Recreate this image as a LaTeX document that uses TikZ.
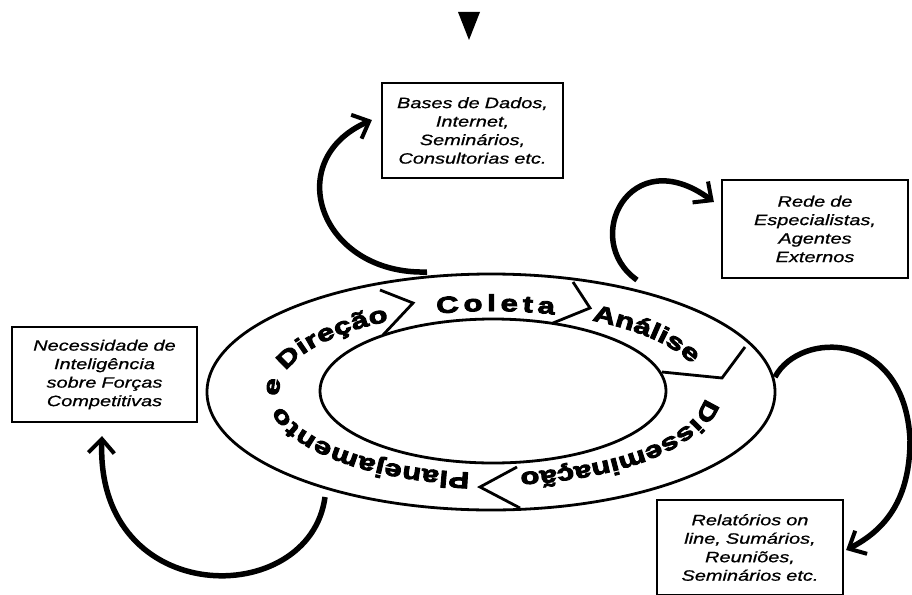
\documentclass[tikz,border=0pt]{standalone}
\usepackage{fontspec}
\usetikzlibrary{arrows.meta,calc,decorations.text}
\newfontfamily\boxfamily[FakeStretch=1.33,FakeBold=0.8]{Liberation Sans}
\newfontfamily\ringfamily[FakeStretch=1.35,FakeBold=4]{Liberation Sans Bold}
\newcommand\boxfont{\boxfamily\itshape\fontsize{15}{18.5}\selectfont}
\newcommand\ringfont{\ringfamily\fontsize{23}{23}\selectfont}

\begin{document}
\begin{tikzpicture}
	[
	x=1pt,y=-1pt,
	srcbox/.style={rectangle,draw,line width=2.2pt,inner sep=0pt,text width=#1,align=center,font=\boxfont,minimum height=95pt},
	ringline/.style={line width=2.8pt},
	ringlabel/.style={decorate,decoration={text along path,text align={fit to path},text={|\ringfont|#1}}},
	cyclearrow/.style={line width=5.5pt,-{Straight Barb[length=14pt,width=26pt,line width=4pt]}},
	]
	\useasboundingbox (0,0) rectangle (912,594);
	\clip (0,0) rectangle (912,594);

	% ring
	\coordinate (ctr) at (492,392);
	\draw[ringline] (491,392) ellipse [x radius=284,y radius=118];
	\draw[ringline] (493,391) ellipse [x radius=173,y radius=72];
	\draw[ringline] (380,290) -- (413,303) -- (383,335);
	\draw[ringline] (573,282) -- (590,308) -- (553,323);
	\draw[ringline] (745,347) -- (722,378) -- (662,372);
	\draw[ringline] (520,508) -- (480,487) -- (517,467);

	\path[ringlabel=Coleta] (ctr) ++(-105:213 and 81) arc[start angle=-105,end angle=-73,x radius=213,y radius=81];
	\path[ringlabel=Análise] (ctr) ++(-62:213 and 81) arc[start angle=-62,end angle=-20,x radius=213,y radius=81];
	\path[ringlabel=Disseminação] (ctr) ++(4:213 and 81) arc[start angle=4,end angle=82,x radius=213,y radius=81];
	\path[ringlabel=Planejamento e Direção] (ctr) ++(96:213 and 81) arc[start angle=96,end angle=241,x radius=213,y radius=81];

	% boxes
	\node[srcbox=181pt] (bases) at (472.5,130.5) {Bases de Dados,\\ Internet,\\ Seminários,\\ Consultorias etc.};
	\node[srcbox=186pt,minimum height=98pt] (rede) at (815,229) {Rede de\\ Especialistas,\\ Agentes\\ Externos};
	\node[srcbox=185pt] (nec) at (104.5,374.5) {Necessidade de\\ Inteligência\\ sobre Forças\\ Competitivas};
	\node[srcbox=186pt] (rel) at (750,547.5) {Relatórios on\\ line, Sumários,\\ Reuniões,\\ Seminários etc.};

	% arrows
	\coordinate (colTop) at (427,272);
	\coordinate (anaTop) at (637,280);
	\coordinate (disRight) at (775,377);
	\coordinate (bendR) at (910,440);
	\coordinate (plaBot) at (325,497);
	\draw[cyclearrow] (colTop) .. controls (320,275) and (280,160) .. ($(bases.west)+(-9,-10.5)$);
	\draw[cyclearrow] (anaTop) .. controls (580,240) and (630,140) .. ($(rede.west)+(-7,-27)$);
	\draw[cyclearrow] (disRight) .. controls (800,330) and (905,330) .. (bendR) .. controls (910,500) and (885,530) .. ($(rel.east)+(2,2.5)$);
	\draw[cyclearrow] (plaBot) .. controls (310,610) and (95,610) .. ($(nec.south)+(-2.5,13)$);

	\fill (458,12) -- (480,12) -- (469,40) -- cycle;
\end{tikzpicture}
\end{document}
